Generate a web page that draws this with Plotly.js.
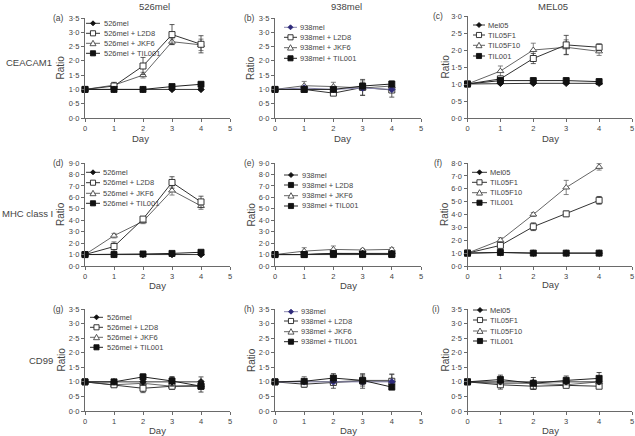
<!DOCTYPE html>
<html><head><meta charset="utf-8">
<script src="https://cdn.plot.ly/plotly-3.0.1.min.js"></script>
<style>html,body{margin:0;padding:0;background:#fff}#chart{width:635px;height:436px}</style>
</head><body><div id="chart"></div>
<script>
// ---------------- DATA ----------------
const days = [0, 1, 2, 3, 4];
const xTicks = [0, 1, 2, 3, 4, 5];
const columnTitles = ['526mel', '938mel', 'MEL05'];
const rowLabels = ['CEACAM1', 'MHC class I', 'CD99'];
const panelLabels = ['(a)', '(b)', '(c)', '(d)', '(e)', '(f)', '(g)', '(h)', '(i)'];
const names526 = ['526mel', '526mel + L2D8', '526mel + JKF6', '526mel + TIL001'];
const names938 = ['938mel', '938mel + L2D8', '938mel + JKF6', '938mel + TIL001'];
const namesMel05 = ['Mel05', 'TIL05F1', 'TIL05F10', 'TIL001'];
const yTicks35 = [0, 0.5, 1, 1.5, 2, 2.5, 3, 3.5];
const yTicks30 = [0, 0.5, 1, 1.5, 2, 2.5, 3];
const yTicks9 = [0, 1, 2, 3, 4, 5, 6, 7, 8, 9];
const yTicks8 = [0, 1, 2, 3, 4, 5, 6, 7, 8];

// (a) CEACAM1 / 526mel
const a_cell = [1.0, 1.0, 1.0, 1.0, 1.0],      a_cell_err = [0, 0.03, 0.03, 0.03, 0.03];
const a_L2D8 = [1.0, 1.12, 1.82, 2.92, 2.58],  a_L2D8_err = [0, 0.1, 0.3, 0.35, 0.3];
const a_JKF6 = [1.0, 1.15, 1.5, 2.67, 2.56],   a_JKF6_err = [0, 0.1, 0.1, 0.1, 0.2];
const a_TIL001 = [1.0, 1.0, 1.0, 1.1, 1.18],   a_TIL001_err = [0, 0.05, 0.03, 0.05, 0.08];
// (b) CEACAM1 / 938mel
const b_cell = [1.0, 1.05, 1.0, 1.05, 1.0],    b_cell_err = [0, 0.05, 0.05, 0.05, 0.05];
const b_L2D8 = [1.0, 1.0, 0.87, 1.07, 0.98],   b_L2D8_err = [0, 0.05, 0.05, 0.28, 0.25];
const b_JKF6 = [1.0, 1.13, 1.1, 1.05, 1.12],   b_JKF6_err = [0, 0.15, 0.15, 0.25, 0.1];
const b_TIL001 = [1.0, 1.0, 1.0, 1.12, 1.19],  b_TIL001_err = [0, 0.05, 0.05, 0.1, 0.1];
// (c) CEACAM1 / MEL05
const c_cell = [1.0, 1.02, 1.02, 1.02, 1.02],  c_cell_err = [0, 0.03, 0.03, 0.03, 0.03];
const c_F1 = [1.0, 1.15, 1.75, 2.15, 2.08],    c_F1_err = [0, 0.05, 0.15, 0.28, 0.1];
const c_F10 = [1.0, 1.38, 2.0, 2.08, 1.96],    c_F10_err = [0, 0.15, 0.2, 0.22, 0.12];
const c_TIL001 = [1.0, 1.1, 1.1, 1.1, 1.07],   c_TIL001_err = [0, 0.08, 0.08, 0.08, 0.08];
// (d) MHC class I / 526mel
const d_cell = [1.0, 1.0, 1.0, 1.0, 1.0],      d_cell_err = [0, 0.05, 0.05, 0.05, 0.05];
const d_L2D8 = [1.0, 1.7, 4.1, 7.3, 5.6],      d_L2D8_err = [0, 0.4, 0.2, 0.5, 0.5];
const d_JKF6 = [1.0, 2.65, 3.9, 6.6, 5.25],    d_JKF6_err = [0, 0.2, 0.2, 0.4, 0.3];
const d_TIL001 = [1.0, 1.0, 1.05, 1.1, 1.2],   d_TIL001_err = [0, 0.05, 0.1, 0.1, 0.1];
// (e) MHC class I / 938mel
const e_cell = [1.0, 1.0, 1.1, 1.1, 1.1],      e_cell_err = [0, 0.05, 0.05, 0.05, 0.05];
const e_L2D8 = [1.0, 1.0, 1.0, 1.0, 1.0],      e_L2D8_err = [0, 0.05, 0.05, 0.05, 0.05];
const e_JKF6 = [1.0, 1.3, 1.45, 1.4, 1.45],    e_JKF6_err = [0, 0.3, 0.3, 0.1, 0.15];
const e_TIL001 = [1.0, 1.0, 1.1, 1.05, 1.05],  e_TIL001_err = [0, 0.05, 0.1, 0.05, 0.05];
// (f) MHC class I / MEL05
const f_cell = [1.0, 1.05, 1.0, 1.0, 1.0],     f_cell_err = [0, 0.05, 0.05, 0.05, 0.05];
const f_F1 = [1.0, 1.6, 3.05, 4.05, 5.1],      f_F1_err = [0, 0.1, 0.3, 0.2, 0.3];
const f_F10 = [1.0, 2.0, 4.0, 6.1, 7.7],       f_F10_err = [0, 0.2, 0.15, 0.55, 0.25];
const f_TIL001 = [1.0, 1.05, 1.0, 1.0, 1.0],   f_TIL001_err = [0, 0.05, 0.05, 0.1, 0.05];
// (g) CD99 / 526mel
const g_cell = [1.0, 1.0, 1.0, 1.0, 1.0],      g_cell_err = [0, 0.05, 0.1, 0.15, 0.17];
const g_L2D8 = [1.0, 0.9, 0.78, 0.85, 0.85],   g_L2D8_err = [0, 0.05, 0.15, 0.1, 0.1];
const g_JKF6 = [1.0, 0.9, 0.95, 0.85, 0.88],   g_JKF6_err = [0, 0.05, 0.1, 0.1, 0.1];
const g_TIL001 = [1.0, 1.0, 1.17, 1.03, 0.85], g_TIL001_err = [0, 0.05, 0.1, 0.15, 0.2];
// (h) CD99 / 938mel
const h_cell = [1.0, 1.0, 1.0, 1.0, 1.0],      h_cell_err = [0, 0.05, 0.05, 0.05, 0.05];
const h_L2D8 = [1.0, 0.92, 0.98, 1.03, 1.02],  h_L2D8_err = [0, 0.1, 0.2, 0.25, 0.25];
const h_JKF6 = [1.0, 1.03, 1.0, 1.05, 1.05],   h_JKF6_err = [0, 0.15, 0.1, 0.2, 0.2];
const h_TIL001 = [1.0, 1.02, 1.13, 1.05, 0.82],h_TIL001_err = [0, 0.05, 0.15, 0.15, 0.05];
// (i) CD99 / MEL05
const i_cell = [1.0, 1.0, 0.98, 1.0, 1.0],     i_cell_err = [0, 0.03, 0.03, 0.03, 0.03];
const i_F1 = [1.0, 0.9, 0.85, 0.88, 0.85],     i_F1_err = [0, 0.15, 0.1, 0.05, 0.05];
const i_F10 = [1.0, 0.95, 0.95, 0.9, 1.0],     i_F10_err = [0, 0.1, 0.1, 0.05, 0.1];
const i_TIL001 = [1.0, 1.08, 0.95, 1.05, 1.12],i_TIL001_err = [0, 0.15, 0.2, 0.15, 0.2];

// ---------------- LAYOUT / STYLE ----------------
const W = 635, H = 436;
const px = v => v / W, py = v => 1 - v / H;
const FONT = 'Liberation Sans, Arial, sans-serif';
const TXT = '#444', AX = '#6a6a6a';

const colX = [[85, 230], [275, 421], [467.5, 632]];
const panels = [
  {series:[a_cell,a_L2D8,a_JKF6,a_TIL001], errs:[a_cell_err,a_L2D8_err,a_JKF6_err,a_TIL001_err], names:names526, yt:yTicks35, yPx:[118,18], col:0, blue:false, filledL2:false,
   leg:{sx0:86, sx1:100, tx:102, ys:[23.3,33.3,43.3,53.3]}, day:[140,139], lab:[66,18]},
  {series:[b_cell,b_L2D8,b_JKF6,b_TIL001], errs:[b_cell_err,b_L2D8_err,b_JKF6_err,b_TIL001_err], names:names938, yt:yTicks35, yPx:[118,18], col:1, blue:true, filledL2:false,
   leg:{sx0:284, sx1:297, tx:298, ys:[27.3,37.3,47.7,58.3]}, day:[342,139], lab:[257,18]},
  {series:[c_cell,c_F1,c_F10,c_TIL001], errs:[c_cell_err,c_F1_err,c_F10_err,c_TIL001_err], names:namesMel05, yt:yTicks30, yPx:[118,16], col:2, blue:false, filledL2:false,
   leg:{sx0:473, sx1:485, tx:486, ys:[25,35,45.3,56]}, day:[550,139], lab:[445,16]},
  {series:[d_cell,d_L2D8,d_JKF6,d_TIL001], errs:[d_cell_err,d_L2D8_err,d_JKF6_err,d_TIL001_err], names:names526, yt:yTicks9, yPx:[266,163], col:0, blue:false, filledL2:false,
   leg:{sx0:86, sx1:100, tx:101, ys:[172.3,182.7,193.3,203.3]}, day:[157,285], lab:[66,163]},
  {series:[e_cell,e_L2D8,e_JKF6,e_TIL001], errs:[e_cell_err,e_L2D8_err,e_JKF6_err,e_TIL001_err], names:names938, yt:yTicks9, yPx:[266,163], col:1, blue:false, filledL2:true,
   leg:{sx0:284, sx1:298, tx:300, ys:[175,185,195.7,206]}, day:[348,285], lab:[257,163]},
  {series:[f_cell,f_F1,f_F10,f_TIL001], errs:[f_cell_err,f_F1_err,f_F10_err,f_TIL001_err], names:namesMel05, yt:yTicks8, yPx:[266,163], col:2, blue:false, filledL2:false,
   leg:{sx0:472, sx1:487, tx:488, ys:[172.3,182.3,192.7,202.7]}, day:[550,284], lab:[444,163]},
  {series:[g_cell,g_L2D8,g_JKF6,g_TIL001], errs:[g_cell_err,g_L2D8_err,g_JKF6_err,g_TIL001_err], names:names526, yt:yTicks35, yPx:[411,309], col:0, blue:false, filledL2:false,
   leg:{sx0:90, sx1:103, tx:105, ys:[317.3,327.3,337.3,347.3]}, day:[157,430], lab:[66,309]},
  {series:[h_cell,h_L2D8,h_JKF6,h_TIL001], errs:[h_cell_err,h_L2D8_err,h_JKF6_err,h_TIL001_err], names:names938, yt:yTicks35, yPx:[411,309], col:1, blue:true, filledL2:false,
   leg:{sx0:284, sx1:298, tx:299, ys:[311.7,321,331.7,341.7]}, day:[348,430], lab:[257,309]},
  {series:[i_cell,i_F1,i_F10,i_TIL001], errs:[i_cell_err,i_F1_err,i_F10_err,i_TIL001_err], names:namesMel05, yt:yTicks35, yPx:[411,309], col:2, blue:false, filledL2:false,
   leg:{sx0:473, sx1:487, tx:488, ys:[310,320,331,341]}, day:[550,430], lab:[442,309]}
];
const ratioX = [60.5, 251, 444.5];

function styleFor(p, k) {
  const lineCol = ['#333', '#333', '#666', '#222'][k];
  if (k === 0) {
    return p.blue ? {symbol:'diamond', size:5, fill:'#2e2a7a', line:'#2e2a7a', lc:'#8a88b0'}
                  : {symbol:'diamond', size:5, fill:'#111', line:'#111', lc:lineCol};
  }
  if (k === 1) return p.filledL2 ? {symbol:'square', size:6, fill:'#111', line:'#111', lc:lineCol}
                                 : {symbol:'square', size:6, fill:'#fff', line:'#222', lc:lineCol};
  if (k === 2) return {symbol:'triangle-up', size:6, fill:'#fff', line:'#444', lc:lineCol};
  return {symbol:'square', size:6, fill:'#111', line:'#111', lc:lineCol};
}

const traces = [], layout = {
  width: W, height: H, margin: {l:0, r:0, t:0, b:0},
  paper_bgcolor: '#fff', plot_bgcolor: 'rgba(0,0,0,0)',
  showlegend: false, font: {family: FONT, color: TXT},
  annotations: [], shapes: []
};

function ann(text, x, y, opts) {
  layout.annotations.push(Object.assign({text, x: px(x), y: py(y), xref:'paper', yref:'paper',
    showarrow:false, xanchor:'center', yanchor:'middle', font:{family:FONT, size:9, color:TXT}}, opts || {}));
}

function legendMarker(st, cx, cy) {
  const s = st.size / 2;
  let path;
  if (st.symbol === 'diamond') {
    path = `M${px(cx)},${py(cy - s)} L${px(cx + s)},${py(cy)} L${px(cx)},${py(cy + s)} L${px(cx - s)},${py(cy)} Z`;
  } else if (st.symbol === 'triangle-up') {
    path = `M${px(cx)},${py(cy - s)} L${px(cx + s)},${py(cy + s * 0.8)} L${px(cx - s)},${py(cy + s * 0.8)} Z`;
  } else {
    const q = s * 0.85;
    path = `M${px(cx - q)},${py(cy - q)} L${px(cx + q)},${py(cy - q)} L${px(cx + q)},${py(cy + q)} L${px(cx - q)},${py(cy + q)} Z`;
  }
  layout.shapes.push({type:'path', xref:'paper', yref:'paper', path, fillcolor:st.fill, line:{color:st.line, width:0.9}});
}

panels.forEach((p, i) => {
  const n = i + 1, xa = 'x' + (n === 1 ? '' : n), ya = 'y' + (n === 1 ? '' : n);
  const xk = 'xaxis' + (n === 1 ? '' : n), yk = 'yaxis' + (n === 1 ? '' : n);
  const cx = colX[p.col];
  layout[xk] = {domain:[px(cx[0]), px(cx[1])], anchor: ya, range:[0, 5], tickvals: xTicks,
    ticktext: xTicks.map(String), showline:true, linecolor:AX, linewidth:1, ticks:'outside', ticklen:3,
    tickcolor:AX, tickfont:{size:7.5, color:TXT, family:FONT}, showgrid:false, zeroline:false, fixedrange:true};
  const top = p.yt[p.yt.length - 1];
  layout[yk] = {domain:[py(p.yPx[0]), py(p.yPx[1])], anchor: xa, range:[0, top], tickvals: p.yt,
    ticktext: p.yt.map(v => v.toFixed(1).replace('.', '·')), showline:true, linecolor:AX, linewidth:1,
    ticks:'outside', ticklen:3, tickcolor:AX, tickfont:{size:7.5, color:TXT, family:FONT},
    showgrid:false, zeroline:false, fixedrange:true};
  [2, 1, 0, 3].forEach(k => {
    const st = styleFor(p, k);
    traces.push({type:'scatter', mode:'lines+markers', x: days, y: p.series[k], name: p.names[k],
      xaxis: xa, yaxis: ya, cliponaxis:false,
      line:{color: st.lc, width:1},
      marker:{symbol: st.symbol, size: st.size, color: st.fill, line:{color: st.line, width:0.9}},
      error_y:{type:'data', array: p.errs[k], visible:true, color: st.lc, thickness:0.8, width:2.5}});
  });
  p.names.forEach((nm, k) => {
    const st = styleFor(p, k), yy = p.leg.ys[k];
    layout.shapes.push({type:'line', xref:'paper', yref:'paper', x0:px(p.leg.sx0), x1:px(p.leg.sx1),
      y0:py(yy), y1:py(yy), line:{color: st.lc, width:1}});
    legendMarker(st, (p.leg.sx0 + p.leg.sx1) / 2, yy);
    ann(nm, p.leg.tx, yy, {xanchor:'left', font:{family:FONT, size:7.5, color:TXT}});
  });
  ann(panelLabels[i], p.lab[0], p.lab[1], {xanchor:'right', font:{family:FONT, size:8.5, color:TXT}});
  ann('Day', p.day[0], p.day[1], {font:{family:FONT, size:9.5, color:TXT}});
  ann('Ratio', ratioX[p.col], (p.yPx[0] + p.yPx[1]) / 2, {textangle:-90, font:{family:FONT, size:10, color:TXT}});
});

ann(columnTitles[0], 154, 6, {font:{family:FONT, size:9.5, color:TXT}});
ann(columnTitles[1], 346, 6, {font:{family:FONT, size:9.5, color:TXT}});
ann(columnTitles[2], 553, 6, {font:{family:FONT, size:9.5, color:TXT}});
ann(rowLabels[0], 29, 62, {font:{family:FONT, size:9.5, color:TXT}});
ann(rowLabels[1], 27, 213, {font:{family:FONT, size:9.5, color:TXT}});
ann(rowLabels[2], 41, 360, {font:{family:FONT, size:9.5, color:TXT}});

Plotly.newPlot('chart', traces, layout, {staticPlot:true, displayModeBar:false});
</script></body></html>
